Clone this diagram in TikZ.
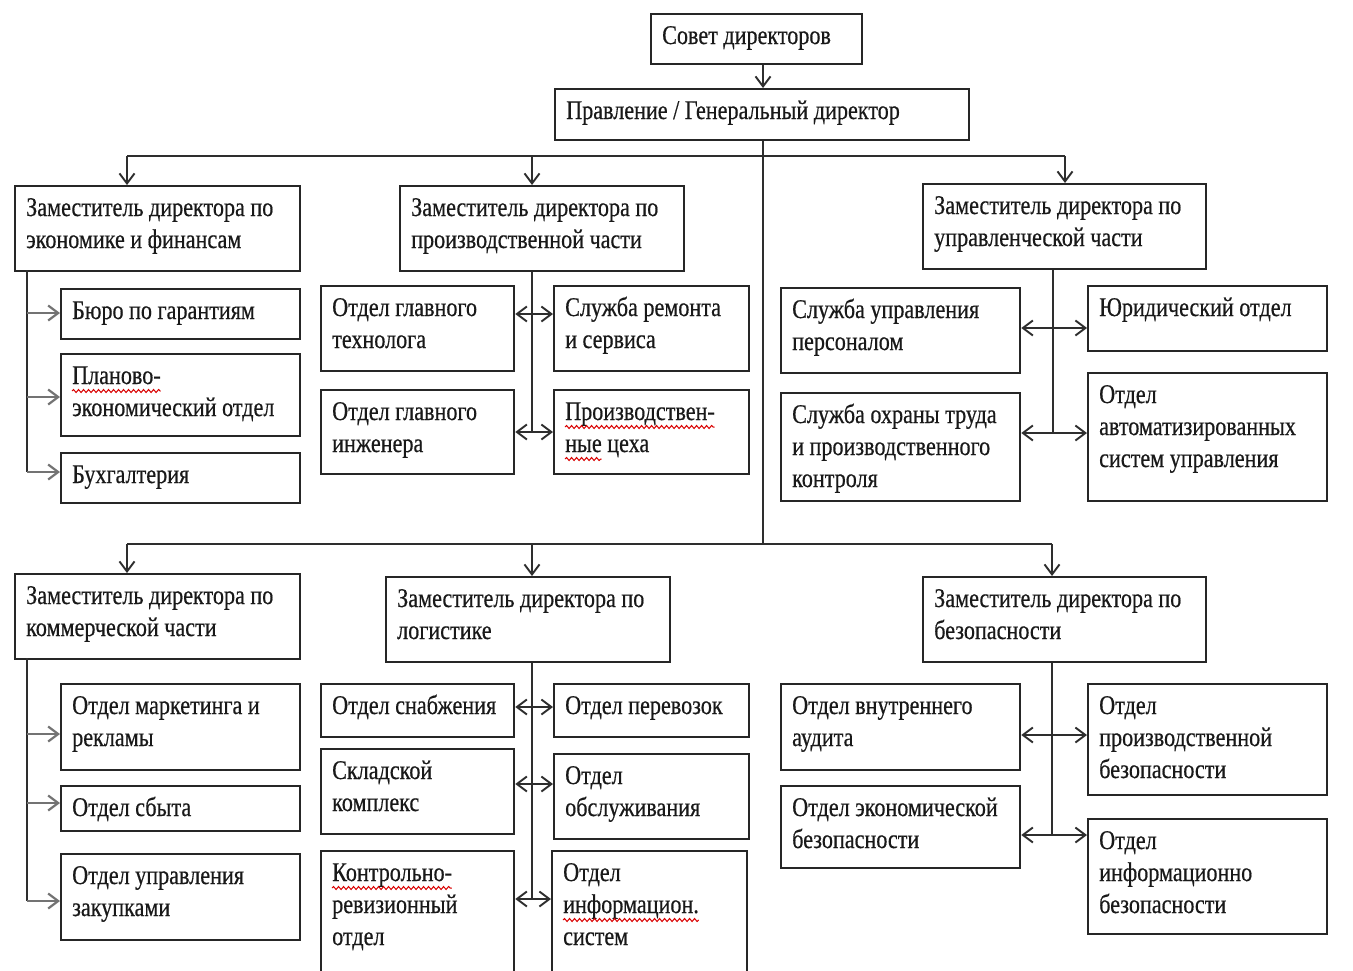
\documentclass[tikz,border=0pt]{standalone}
\usepackage{fontspec}
\setmainfont{Liberation Serif}[FakeStretch=0.82,FakeBold=0.5]
\usetikzlibrary{arrows.meta,decorations.pathmorphing}
\newlength\wA \newlength\wB \newlength\wC \newlength\wD \newlength\wE
\newcommand\mw[2]{\settowidth{#1}{#2}\global#1=#1\relax#2}
\newcommand\orgbox[6]{%
  \node[boxst, minimum width=#4pt-#2pt, minimum height=#5pt-#3pt] (#1) at (#2,#3) {};
  \node[txt] (#1-t) at (#2+12,#3+31) {\parbox[t]{400pt}{#6}};
}
\tikzset{
  boxst/.style={draw=black!85, line width=2.3pt, anchor=north west, inner sep=0pt, fill=white},
  txt/.style={anchor=base west, inner sep=0pt, text=black!90, font=\fontsize{27}{32}\selectfont},
  conn/.style={draw=black!82, line width=1.9pt},
  arr/.style={conn, -{Straight Barb[length=10pt,width=15pt]}},
  darr/.style={conn, {Straight Barb[length=10pt,width=15pt]}-{Straight Barb[length=10pt,width=15pt]}},
  garr/.style={arr, draw=black!55, line width=2.2pt},
  wave/.style={draw=red!85!black, line width=1pt, decorate, decoration={snake, amplitude=1.5pt, segment length=5pt}},
}
\begin{document}
\begin{tikzpicture}[x=1pt,y=-1pt]
\fill[white] (0,0) rectangle (1353,970);
\useasboundingbox (0,0) rectangle (1353,970);
% top
\orgbox{sd}{650}{13}{861}{63}{Совет директоров}
\orgbox{pr}{554}{88}{968}{139}{Правление / Генеральный директор}
% upper deputies
\orgbox{a1}{14}{185}{299}{270}{Заместитель директора по\\экономике и финансам}
\orgbox{a2}{399}{185}{683}{270}{Заместитель директора по\\производственной части}
\orgbox{a3}{922}{183}{1205}{268}{Заместитель директора по\\управленческой части}
\orgbox{a1c1}{60}{288}{299}{338}{Бюро по гарантиям}
\orgbox{a1c2}{60}{353}{299}{435}{\mw{\wA}{Планово-}\\экономический отдел}
\orgbox{a1c3}{60}{452}{299}{502}{Бухгалтерия}
\orgbox{a2l1}{320}{285}{513}{370}{Отдел главного\\технолога}
\orgbox{a2l2}{320}{389}{513}{473}{Отдел главного\\инженера}
\orgbox{a2r1}{553}{285}{748}{370}{Служба ремонта\\и сервиса}
\orgbox{a2r2}{553}{389}{748}{473}{\mw{\wB}{Производствен-}\\\mw{\wC}{ные} цеха}
\orgbox{a3l1}{780}{287}{1019}{372}{Служба управления\\персоналом}
\orgbox{a3l2}{780}{392}{1019}{500}{Служба охраны труда\\и производственного\\контроля}
\orgbox{a3r1}{1087}{285}{1326}{350}{Юридический отдел}
\orgbox{a3r2}{1087}{372}{1326}{500}{Отдел\\автоматизированных\\систем управления}
% lower deputies
\orgbox{b1}{14}{573}{299}{658}{Заместитель директора по\\коммерческой части}
\orgbox{b2}{385}{576}{669}{661}{Заместитель директора по\\логистике}
\orgbox{b3}{922}{576}{1205}{661}{Заместитель директора по\\безопасности}
\orgbox{b1c1}{60}{683}{299}{769}{Отдел маркетинга и\\рекламы}
\orgbox{b1c2}{60}{785}{299}{830}{Отдел сбыта}
\orgbox{b1c3}{60}{853}{299}{939}{Отдел управления\\закупками}
\orgbox{b2l1}{320}{683}{513}{736}{Отдел снабжения}
\orgbox{b2l2}{320}{748}{513}{833}{Складской\\комплекс}
\orgbox{b2l3}{320}{850}{513}{980}{\mw{\wD}{Контрольно-}\\ревизионный\\отдел}
\orgbox{b2r1}{553}{683}{748}{736}{Отдел перевозок}
\orgbox{b2r2}{553}{753}{748}{838}{Отдел\\обслуживания}
\orgbox{b2r3}{551}{850}{746}{980}{Отдел\\\mw{\wE}{информацион.}\\систем}
\orgbox{b3l1}{780}{683}{1019}{769}{Отдел внутреннего\\аудита}
\orgbox{b3l2}{780}{785}{1019}{867}{Отдел экономической\\безопасности}
\orgbox{b3r1}{1087}{683}{1326}{794}{Отдел\\производственной\\безопасности}
\orgbox{b3r2}{1087}{818}{1326}{933}{Отдел\\информационно\\безопасности}
% spell-check wavy underlines
\draw[wave] ([yshift=-7pt]a1c2-t.base west) -- ++(\wA,0);
\draw[wave] ([yshift=-7pt]a2r2-t.base west) -- ++(\wB,0);
\draw[wave] ([yshift=-39pt]a2r2-t.base west) -- ++(\wC,0);
\draw[wave] ([yshift=-7pt]b2l3-t.base west) -- ++(\wD,0);
\draw[wave] ([yshift=-39pt]b2r3-t.base west) -- ++(\wE,0);
% bus coordinates
\coordinate (busT) at (763,156);
\coordinate (busTL) at (127,156);
\coordinate (busTM) at (532,156);
\coordinate (busTR) at (1065,156);
\coordinate (busB) at (763,544);
\coordinate (busBL) at (127,544);
\coordinate (busBM) at (532,544);
\coordinate (busBR) at (1052,544);
% top connectors
\draw[arr] (sd.south -| busT) -- (pr.north -| busT);
\draw[conn] (pr.south -| busT) -- (busB);
\draw[conn] (busTL) -- (busTR);
\draw[arr] (busTL) -- (a1.north -| busTL);
\draw[arr] (busTM) -- (a2.north -| busTM);
\draw[arr] (busTR) -- (a3.north -| busTR);
\draw[conn] (busBL) -- (busBR);
\draw[arr] (busBL) -- (b1.north -| busBL);
\draw[arr] (busBM) -- (b2.north -| busBM);
\draw[arr] (busBR) -- (b3.north -| busBR);
% a1 branch
\coordinate (a1v) at (27,270);
\draw[conn] (a1v) -- (a1v |- 0,472);
\draw[garr] (a1v |- 0,313) -- (a1c1.west |- 0,313);
\draw[garr] (a1v |- 0,397) -- (a1c2.west |- 0,397);
\draw[garr] (a1v |- 0,472) -- (a1c3.west |- 0,472);
% a2 branch
\draw[conn] (a2.south -| busTM) -- (busTM |- 0,432);
\draw[darr] (a2l1.east |- 0,314) -- (a2r1.west |- 0,314);
\draw[darr] (a2l2.east |- 0,432) -- (a2r2.west |- 0,432);
% a3 branch
\draw[conn] (a3.south -| 1053,0) -- (1053,433);
\draw[darr] (a3l1.east |- 0,328) -- (a3r1.west |- 0,328);
\draw[darr] (a3l2.east |- 0,433) -- (a3r2.west |- 0,433);
% b1 branch
\coordinate (b1v) at (27,658);
\draw[conn] (b1v) -- (b1v |- 0,901);
\draw[garr] (b1v |- 0,734) -- (b1c1.west |- 0,734);
\draw[garr] (b1v |- 0,803) -- (b1c2.west |- 0,803);
\draw[garr] (b1v |- 0,901) -- (b1c3.west |- 0,901);
% b2 branch
\draw[conn] (b2.south -| busBM) -- (busBM |- 0,899);
\draw[darr] (b2l1.east |- 0,707) -- (b2r1.west |- 0,707);
\draw[darr] (b2l2.east |- 0,784) -- (b2r2.west |- 0,784);
\draw[darr] (b2l3.east |- 0,899) -- (b2r3.west |- 0,899);
% b3 branch
\draw[conn] (b3.south -| busBR) -- (busBR |- 0,835);
\draw[darr] (b3l1.east |- 0,735) -- (b3r1.west |- 0,735);
\draw[darr] (b3l2.east |- 0,835) -- (b3r2.west |- 0,835);
\end{tikzpicture}
\end{document}
